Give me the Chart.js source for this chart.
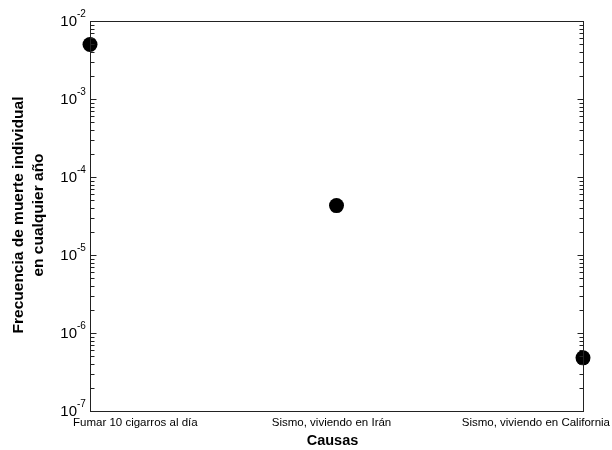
<!DOCTYPE html>
<html>
<head>
<meta charset="utf-8">
<script src="https://cdn.jsdelivr.net/npm/chart.js@4.4.1/dist/chart.umd.min.js"></script>
<style>
  html, body { margin: 0; padding: 0; background: #fff; }
  #wrap { width: 612px; height: 450px; }
</style>
</head>
<body>
<div id="wrap"><canvas id="chart1" width="612" height="450"></canvas></div>
<script>
// data
var causes = ['Fumar 10 cigarros al día', 'Sismo, viviendo en Irán', 'Sismo, viviendo en California'];
var frequency = [5.0e-3, 4.3e-5, 4.8e-7];
var decades = [-7, -6, -5, -4, -3, -2];
var yTitle = ['Frecuencia de muerte individual', 'en cualquier año'];
var xTitle = 'Causas';

var FONT = '"Liberation Sans", Arial, sans-serif';

// frame, inward ticks and tick labels
var axisDecor = {
    id: 'axisDecor',
    afterDraw: function(chart) {
        var ctx = chart.ctx;
        var a = chart.chartArea;
        var y = chart.scales.y;
        var x = chart.scales.x;
        var L = Math.round(a.left) + 0.5, R = Math.round(a.right) + 0.5;
        var T = Math.round(a.top) + 0.5, B = Math.round(a.bottom) + 0.5;
        ctx.save();
        ctx.strokeStyle = '#222';
        ctx.lineWidth = 1;
        ctx.strokeRect(L, T, R - L, B - T);

        // ticks on left and right
        ctx.beginPath();
        decades.forEach(function(d, i) {
            if (i === decades.length - 1) return;
            for (var m = 1; m <= 9; m++) {
                var py = Math.round(y.getPixelForValue(m * Math.pow(10, d))) + 0.5;
                var len = m === 1 ? 6 : 4;
                ctx.moveTo(L, py); ctx.lineTo(L + len, py);
                ctx.moveTo(R, py); ctx.lineTo(R - len, py);
            }
        });
        ctx.stroke();

        // y labels 10^n
        ctx.fillStyle = '#000';
        decades.forEach(function(d) {
            var py = y.getPixelForValue(Math.pow(10, d));
            ctx.font = '15px ' + FONT;
            ctx.textAlign = 'right';
            ctx.textBaseline = 'middle';
            ctx.fillText('10', a.left - 13, py + 1);
            ctx.font = '10px ' + FONT;
            ctx.textAlign = 'left';
            ctx.fillText(String(d), a.left - 13, py - 7);
        });

        // x labels
        ctx.font = '11.5px ' + FONT;
        ctx.textBaseline = 'middle';
        causes.forEach(function(c, i) {
            var px = x.getPixelForValue(i);
            if (i === 0) { ctx.textAlign = 'left'; px -= 17; }
            else if (i === causes.length - 1) { ctx.textAlign = 'right'; px += 27; }
            else { ctx.textAlign = 'center'; px -= 5; }
            ctx.fillText(c, px, a.bottom + 12);
        });

        // axis titles
        ctx.font = 'bold 14.5px ' + FONT;
        ctx.textAlign = 'center';
        ctx.fillText(xTitle, (a.left + a.right) / 2 - 4, 441);

        ctx.translate(0, (a.top + a.bottom) / 2 - 1);
        ctx.rotate(-Math.PI / 2);
        ctx.font = 'bold 15.5px ' + FONT;
        ctx.fillText(yTitle[0], 0, 19);
        ctx.fillText(yTitle[1], 0, 39);
        ctx.restore();
    }
};

var ctx = document.getElementById('chart1').getContext('2d');
var myChart = new Chart(ctx, {
    type: 'line',
    data: {
        labels: causes,
        datasets: [{
            data: frequency,
            showLine: false,
            pointRadius: 7.5,
            pointBackgroundColor: '#000',
            pointBorderColor: '#000',
            pointBorderWidth: 0,
            clip: false
        }]
    },
    options: {
        responsive: false,
        animation: false,
        events: [],
        layout: { padding: { top: 21, right: 29, left: 0, bottom: 0 } },
        plugins: {
            legend: { display: false },
            tooltip: { enabled: false }
        },
        scales: {
            x: {
                type: 'category',
                offset: false,
                grid: { display: false },
                border: { display: false },
                ticks: { display: false },
                afterFit: function(s) { s.height = 39; }
            },
            y: {
                type: 'logarithmic',
                min: 1e-7,
                max: 1e-2,
                grid: { display: false },
                border: { display: false },
                ticks: { display: false },
                afterFit: function(s) { s.width = 90; }
            }
        }
    },
    plugins: [axisDecor]
});
</script>
</body>
</html>
